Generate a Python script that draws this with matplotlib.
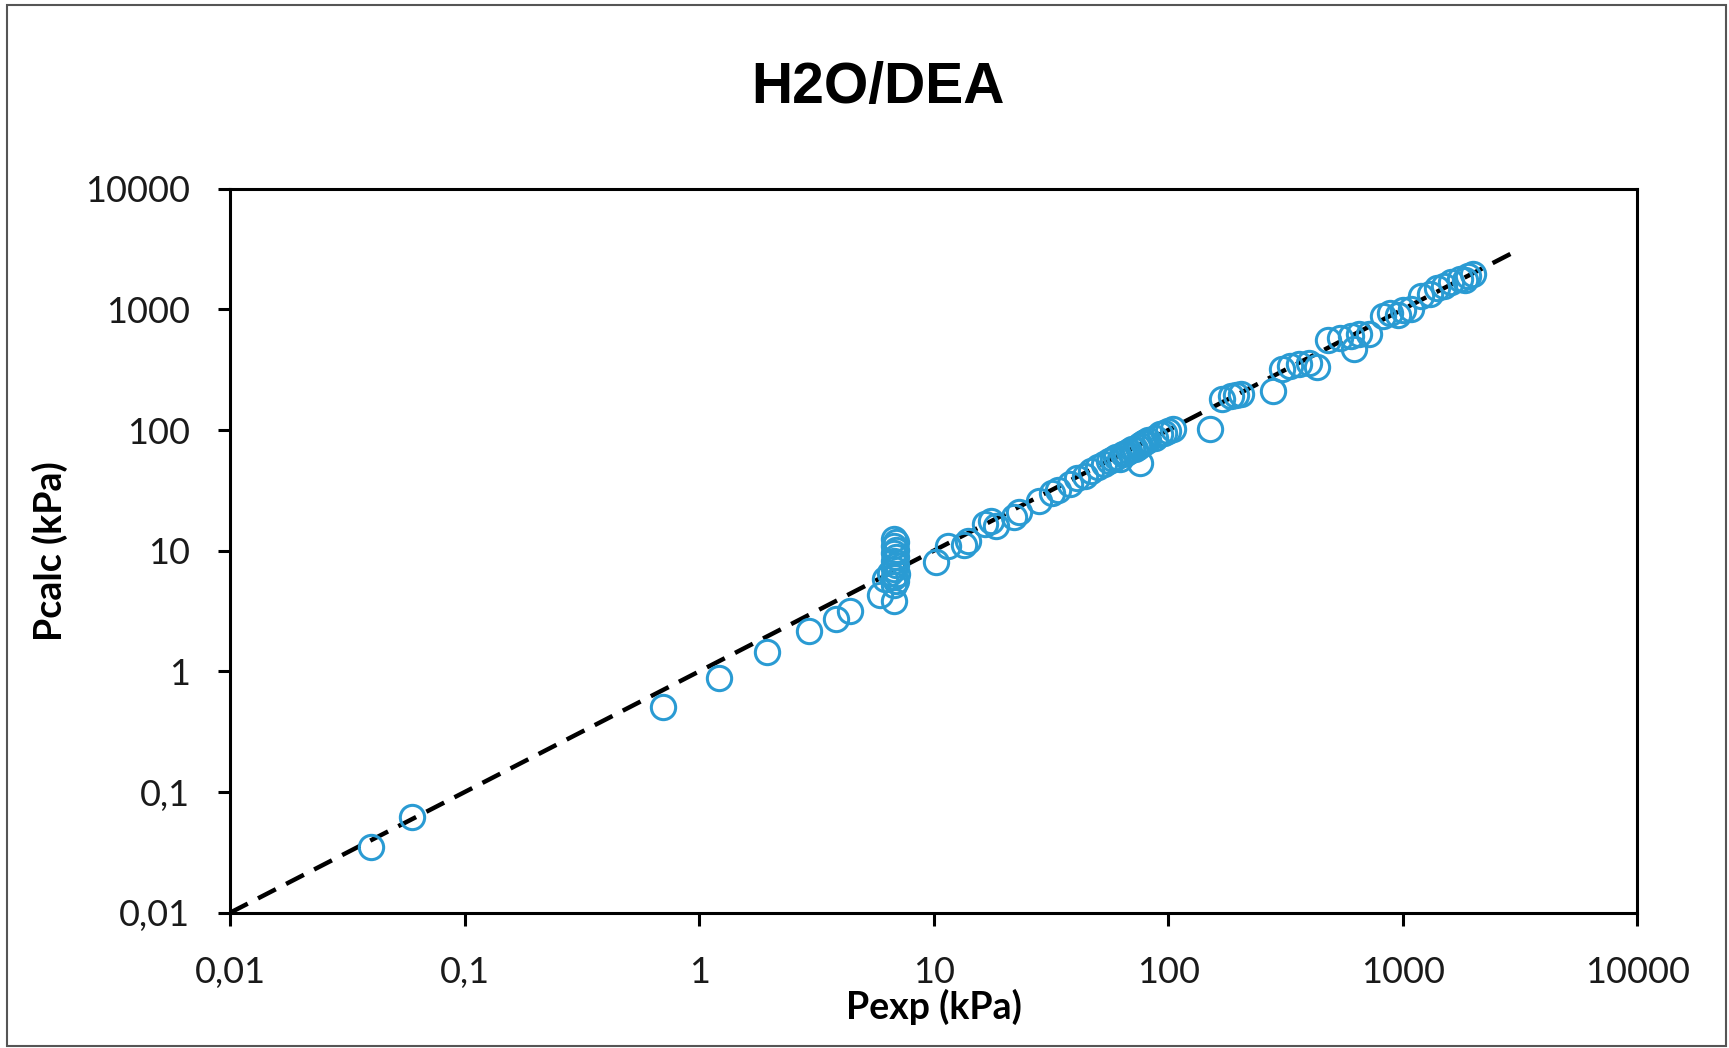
import matplotlib
matplotlib.use("Agg")
import matplotlib.pyplot as plt
from matplotlib.patches import Rectangle

pexp = [0.040, 0.060, 0.70, 1.22, 1.95, 2.95, 3.85, 4.4, 5.9, 6.8, 6.2, 6.5,
        6.8, 6.9, 6.8, 7.0, 6.8, 6.9, 6.8, 6.9, 6.8, 6.9, 6.8, 6.9, 6.8,
        10.2, 11.5, 13.5, 14.0, 16.5, 17.5, 18.5, 22, 23, 28, 32, 34, 38,
        41, 44, 47, 50, 53, 56, 58, 60, 62, 64, 66, 68, 70, 72, 74, 76, 78,
        80, 82, 76, 88, 92, 96, 100, 105, 150, 170, 185, 195, 205, 280, 305,
        330, 360, 400, 430, 480, 540, 600, 620, 650, 720, 820, 880, 950,
        1000, 1080, 1200, 1300, 1400, 1500, 1600, 1750, 1900, 2000, 1850]
pcalc = [0.035, 0.062, 0.51, 0.89, 1.45, 2.15, 2.7, 3.15, 4.3, 3.8, 5.8, 6.5,
         5.2, 5.6, 6.0, 6.4, 7.0, 7.6, 8.2, 8.8, 9.5, 10.2, 11.0, 11.8, 12.5,
         8.0, 11.0, 11.2, 12.0, 16.5, 17.5, 16.0, 19, 21, 26, 30, 32, 36,
         40, 42, 46, 49, 52, 55, 57, 60, 58, 63, 64, 67, 69, 70, 73, 75, 78,
         80, 82, 53, 86, 92, 95, 98, 102, 102, 180, 190, 195, 200, 210, 320,
         340, 350, 360, 330, 560, 580, 600, 470, 630, 620, 880, 940, 900,
         980, 1000, 1300, 1350, 1500, 1550, 1700, 1800, 1900, 1950, 1750]

parity = [0.01, 3000]
ticks = [0.01, 0.1, 1, 10, 100, 1000, 10000]
tick_labels = ["0,01", "0,1", "1", "10", "100", "1000", "10000"]

blue = "#2A9BD3"

fig = plt.figure(figsize=(17.29, 10.48), dpi=100)
ax = fig.add_axes([0.133, 0.129, 0.814, 0.691])

# chart area frame (like the Excel chart border)
fig.patches.append(Rectangle((0.004, 0.002), 0.994, 0.993, transform=fig.transFigure,
                             fill=False, edgecolor="#555555", lw=1.5))

ax.plot(parity, parity, color="black", lw=3.2, linestyle=(0, (4.5, 2.6)), zorder=2)
ax.plot(pexp, pcalc, linestyle="none", marker="o", markersize=17.5,
        markerfacecolor="none", markeredgecolor=blue, markeredgewidth=2.2, zorder=3)

ax.set_xscale("log")
ax.set_yscale("log")
ax.set_xlim(0.01, 10000)
ax.set_ylim(0.01, 10000)
ax.set_xticks(ticks)
ax.set_xticklabels(tick_labels)
ax.set_yticks(ticks)
ax.set_yticklabels(tick_labels)
ax.minorticks_off()

for s in ax.spines.values():
    s.set_linewidth(2.2)
ax.tick_params(axis="both", direction="out", length=9, width=2.2,
               labelsize=26, labelcolor="#1a1a1a")
ax.tick_params(axis="x", pad=22)
ax.tick_params(axis="y", pad=20)
for lab in ax.get_xticklabels() + ax.get_yticklabels():
    lab.set_fontfamily("Lato")

ax.set_xlabel("Pexp (kPa)", fontsize=27, fontweight="bold", family="Lato", labelpad=0)
ax.set_ylabel("Pcalc (kPa)", fontsize=27, fontweight="bold", family="Lato", labelpad=12)
fig.text(0.508, 0.916, "H2O/DEA", fontsize=41, fontweight="bold",
         family="Liberation Sans", ha="center", va="center")

fig.savefig("out.png", dpi=100)
